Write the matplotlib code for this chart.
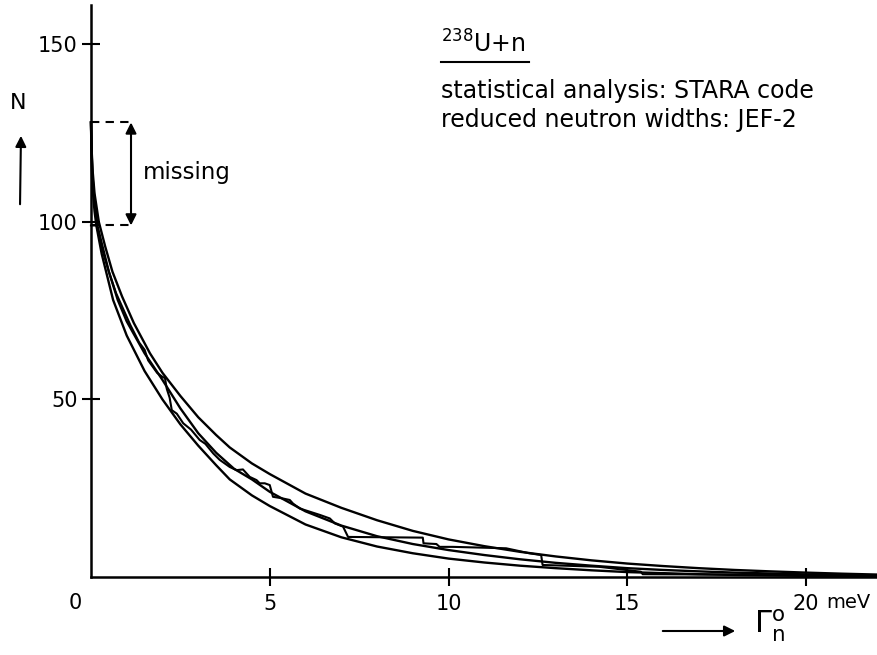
import numpy as np
import matplotlib.pyplot as plt


    # Données (Gamma_n^0 en meV, N = nombre de résonances)


# Courbe calculée supérieure
x_haut = [0.0, 0.02, 0.05, 0.1, 0.22, 0.4, 0.6, 0.87, 1.2, 1.65, 2.0, 2.5, 3.0,
          3.5, 3.88, 4.5, 5.0, 6.0, 7.0, 8.0, 9.0, 10.0, 11.0, 12.0, 13.0,
          14.0, 15.0, 16.0, 17.0, 18.0, 19.0, 20.0, 21.0, 22.0]
N_haut = [128, 120, 114, 108, 100, 93, 86, 79, 71.5, 63, 57.5, 51, 45,
          40, 36.5, 32, 29, 23.5, 19.5, 16, 13, 10.6, 8.7, 7.1, 5.8,
          4.7, 3.8, 3.1, 2.5, 2.0, 1.6, 1.25, 0.95, 0.7]

# Courbe calculée du milieu
x_milieu = [0.0, 0.02, 0.05, 0.1, 0.18, 0.3, 0.5, 0.75, 1.0, 1.5, 2.0, 2.5,
            3.0, 3.5, 4.0, 4.5, 5.0, 6.0, 7.0, 8.0, 9.0, 10.0, 11.0, 12.0,
            13.0, 14.0, 15.0, 16.0, 17.0, 18.0, 19.0, 20.0, 21.0, 22.0]
N_milieu = [128, 119, 112, 106, 99, 94, 86, 78, 72, 63, 55.5, 47.5,
            40.5, 35, 30.5, 27.5, 24, 18.5, 14.5, 11.5, 9.3, 7.6, 6.2, 5.0,
            4.0, 3.2, 2.5, 2.0, 1.6, 1.25, 1.0, 0.75, 0.55, 0.4]

# Courbe calculée inférieure
x_bas = [0.0, 0.02, 0.04, 0.1, 0.15, 0.3, 0.62, 1.0, 1.5, 2.0, 2.5, 3.0, 3.5,
         3.88, 4.5, 5.0, 6.0, 7.0, 8.0, 9.0, 10.0, 11.0, 12.0, 13.0, 14.0,
         15.0, 16.0, 17.0, 18.0, 19.0, 20.0, 21.0, 22.0]
N_bas = [128, 116, 110, 103, 99, 91, 78, 68, 58, 50, 43, 37, 31.5,
         27.5, 23, 20, 14.8, 11.2, 8.6, 6.7, 5.2, 4.1, 3.2, 2.5, 1.9,
         1.4, 1.1, 0.8, 0.6, 0.45, 0.32, 0.22, 0.15]

# Distribution expérimentale (JEF-2), courbe en escalier
x_exp = [0.0, 0.16, 0.25, 0.35, 0.5, 0.7, 0.9, 1.1, 1.35, 1.5, 1.6, 1.85, 1.98,
         2.07, 2.12, 2.2, 2.26, 2.4, 2.58, 2.8, 3.04, 3.2, 3.42, 3.6, 3.88,
         4.07, 4.25, 4.44, 4.63, 4.72, 4.86, 5.0, 5.09, 5.33, 5.56, 5.65,
         5.84, 6.12, 6.4, 6.68, 6.82, 7.05, 7.19, 9.28, 9.3, 9.66, 9.75,
         10.12, 11.61, 12.26, 12.59, 12.63, 14.2, 15.38, 15.43, 22.0]
N_exp = [99, 99, 95, 91, 86, 80, 75.5, 71, 66, 64, 61, 57.5, 56.5,
         56, 53, 50.5, 47, 46, 43.3, 41.5, 38.6, 37.5, 34.8, 33, 31,
         30.1, 30.3, 28.2, 27.3, 26.4, 26.4, 25.9, 22.6, 22.2, 21.7, 20.7,
         19.3, 18.4, 17.5, 16.5, 15.1, 14.2, 11.3, 11.1, 9.5, 9.3, 8.5,
         8.5, 8.1, 6.7, 6.2, 3.4, 2.9, 1.5, 0.8, 0.5]

# Ticks
xticks = [5, 10, 15, 20]
yticks = [50, 100, 150]


    # Affichage graphique


fig = plt.figure(figsize=(8.78, 6.55), dpi=100, facecolor='w')
ax = fig.add_axes([0.1036, 0.119, 0.896, 0.873])
ax.set_xlim(0, 22.0)
ax.set_ylim(0, 161)

for spine in ('top', 'right'):
    ax.spines[spine].set_visible(False)
for spine in ('left', 'bottom'):
    ax.spines[spine].set_linewidth(1.8)

ax.set_xticks(xticks)
ax.set_yticks(yticks)
ax.tick_params(direction='inout', length=13, width=1.5, labelsize=15, pad=3)
ax.tick_params(axis='x', pad=6)

# Courbes calculées et expérimentale
ax.plot(x_haut, N_haut, 'k', lw=1.7, clip_on=False)
ax.plot(x_milieu, N_milieu, 'k', lw=1.7, clip_on=False)
ax.plot(x_bas, N_bas, 'k', lw=1.7, clip_on=False)
ax.plot(x_exp, N_exp, 'k', lw=1.5, clip_on=False)

# "missing" : écart entre 128 et 99
ax.plot([0, 1.2], [128, 128], 'k', lw=1.5, dashes=(4, 3))
ax.plot([0, 1.2], [99, 99], 'k', lw=1.5, dashes=(4, 3))
ax.annotate('', xy=(1.12, 128), xytext=(1.12, 99),
            arrowprops=dict(arrowstyle='<|-|>', color='k', lw=1.5,
                            mutation_scale=16, shrinkA=0, shrinkB=0))
ax.text(1.45, 114, 'missing', fontsize=16.5, va='center')

# Titre et légende dans le cadre
ax.text(9.78, 147.6, r'$^{238}$U+n', fontsize=17, va='baseline')
ax.plot([9.78, 12.26], [145, 145], 'k', lw=1.5, clip_on=False)
ax.text(9.78, 134.8, 'statistical analysis: STARA code', fontsize=17,
        va='baseline')
ax.text(9.78, 126.7, 'reduced neutron widths: JEF-2', fontsize=17,
        va='baseline')

# Origine et unité
ax.text(-0.45, -7.3, '0', fontsize=15, ha='center', va='center', clip_on=False)
ax.text(20.55, -7.3, 'meV', fontsize=14, ha='left', va='center', clip_on=False)

# Axe N (flèche verticale)
fig.text(18 / 878, 1 - 103 / 655, 'N', fontsize=16, ha='center', va='center')
fig.patches.append(plt.matplotlib.patches.FancyArrowPatch(
    (20 / 878, 1 - 207 / 655), (21 / 878, 1 - 133 / 655),
    transform=fig.transFigure, arrowstyle='-|>', mutation_scale=16,
    color='k', lw=1.5))

# Axe Gamma_n^0 (flèche horizontale)
fig.patches.append(plt.matplotlib.patches.FancyArrowPatch(
    (660 / 878, 1 - 631 / 655), (738 / 878, 1 - 631 / 655),
    transform=fig.transFigure, arrowstyle='-|>', mutation_scale=16,
    color='k', lw=1.5))
fig.text(770 / 878, 1 - 626 / 655, r'$\Gamma_{\mathrm{n}}^{\mathrm{o}}$',
         fontsize=22, ha='center', va='center')

plt.savefig('out.png', dpi=100)
